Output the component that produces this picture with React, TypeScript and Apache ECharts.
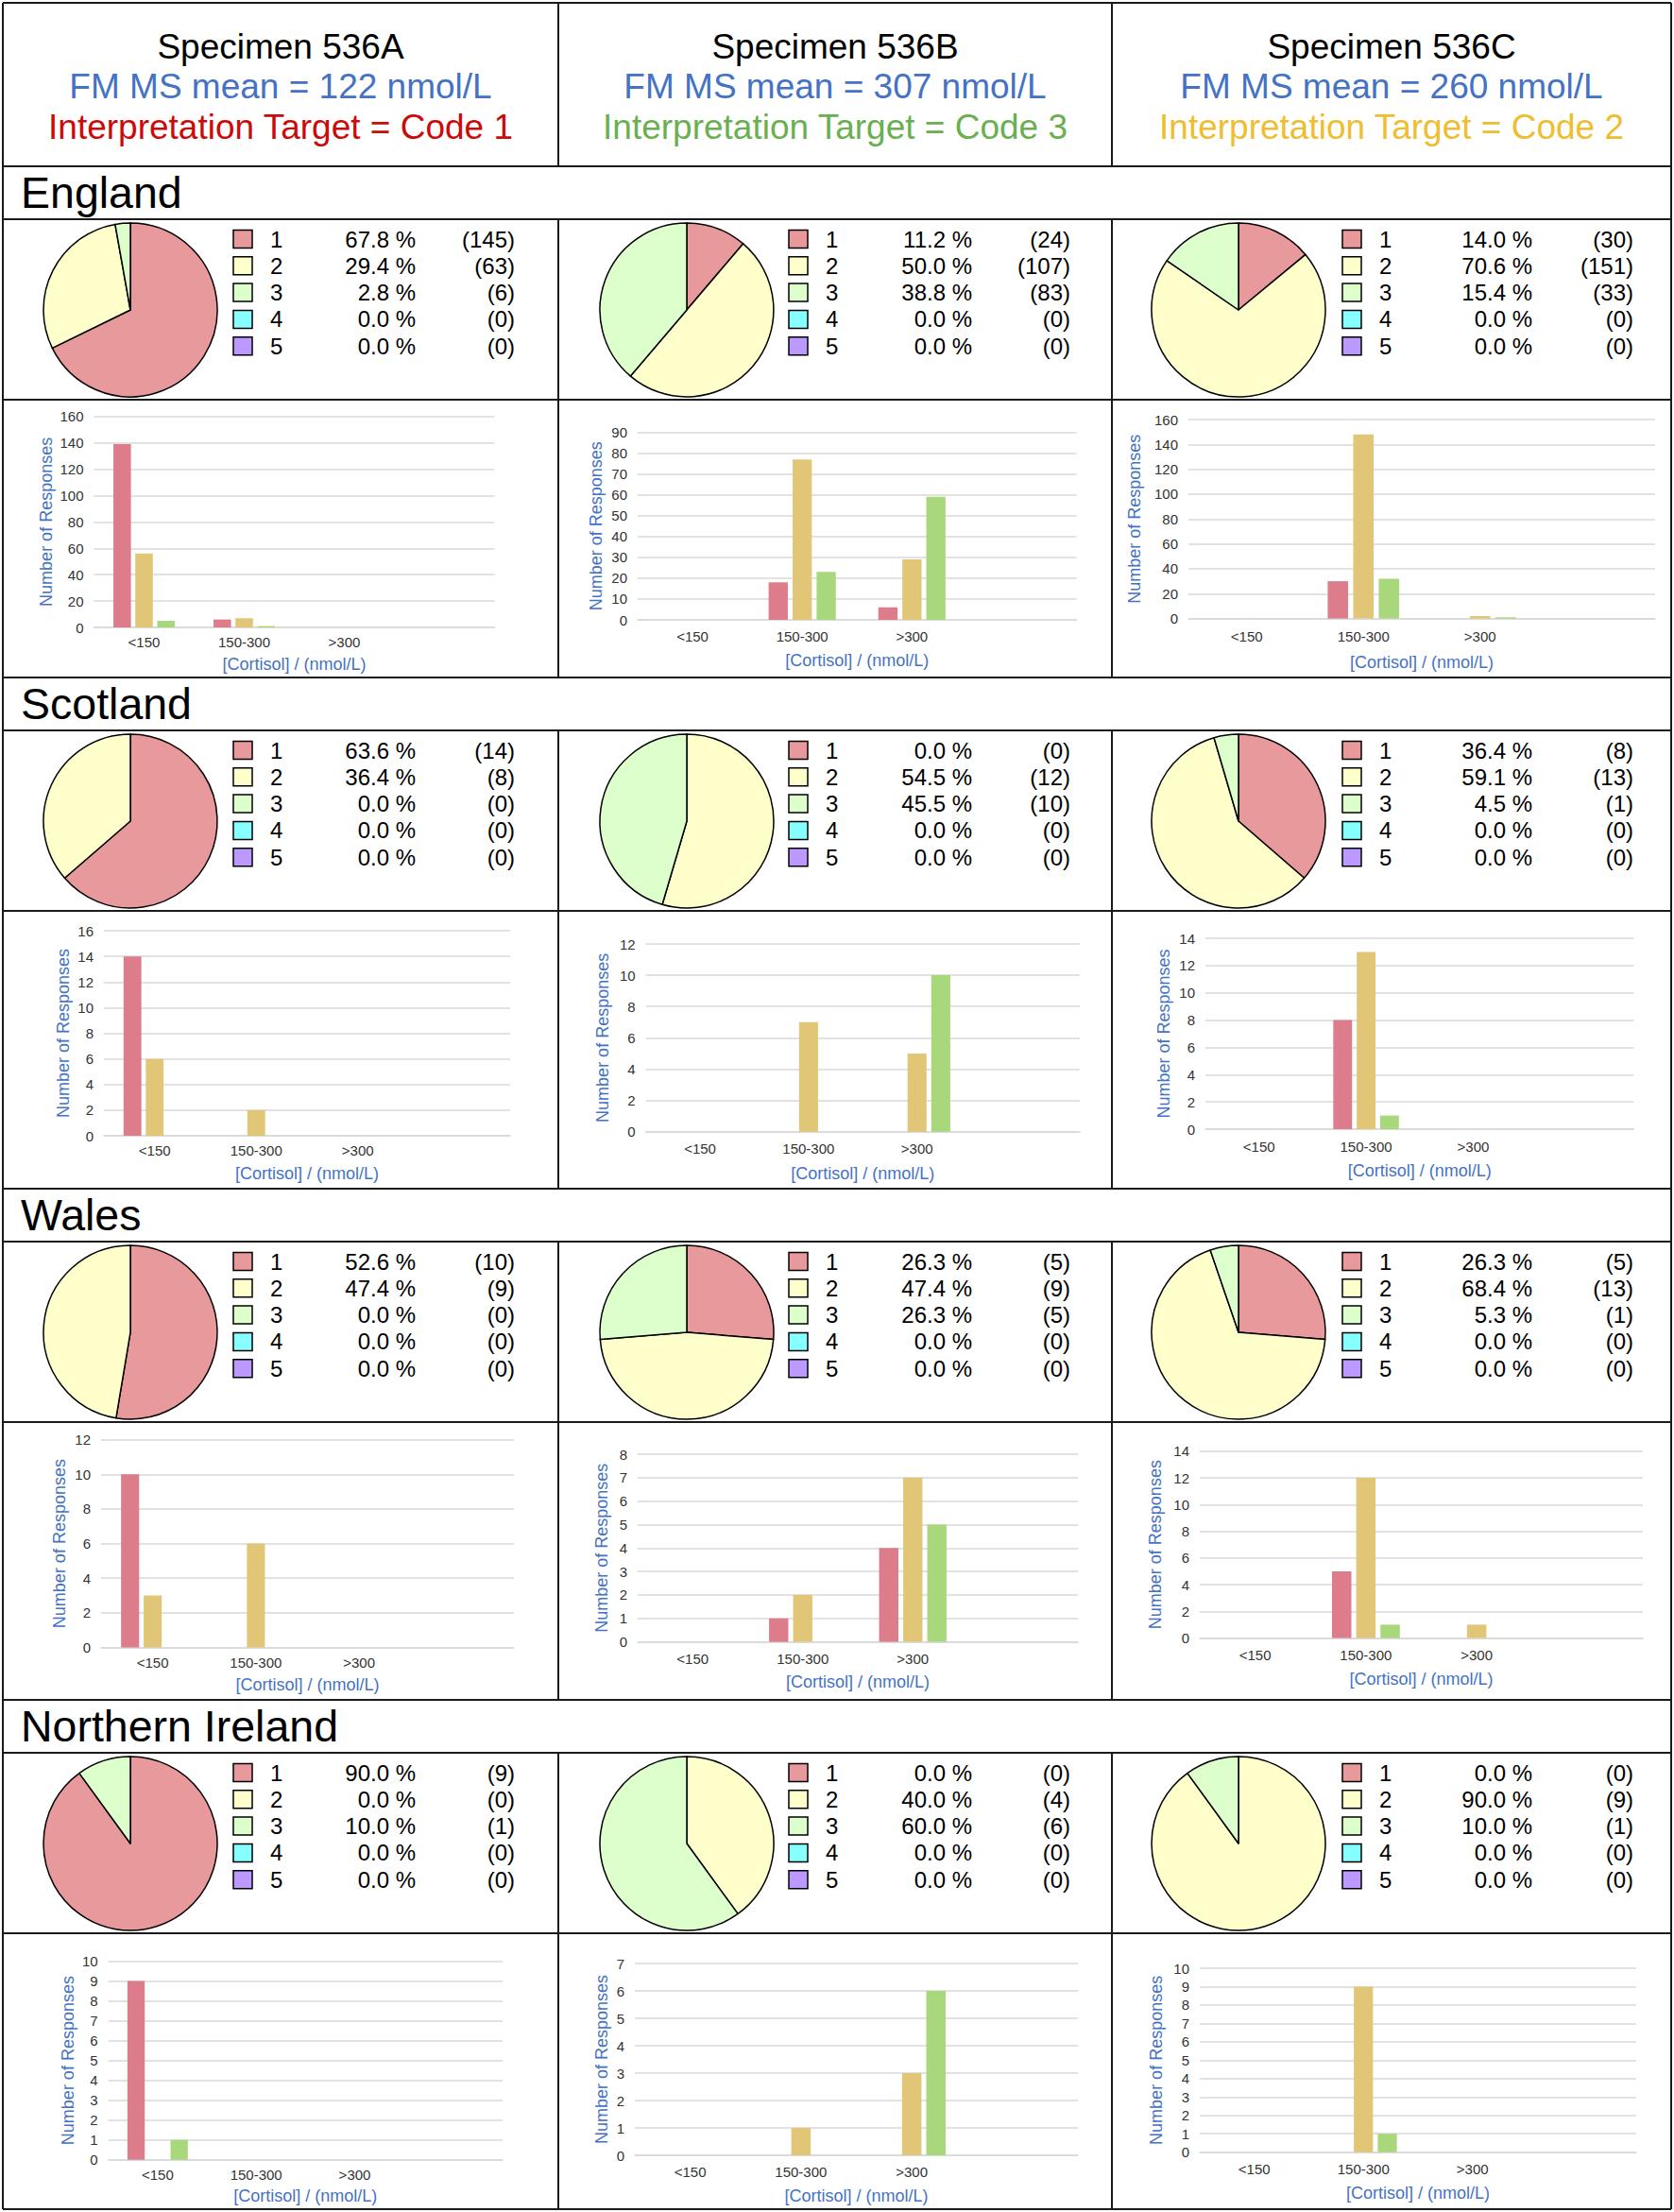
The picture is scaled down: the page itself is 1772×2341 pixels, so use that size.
import React, { useEffect, useRef } from 'react';
import * as echarts from 'echarts';

// ---------------- data ----------------
const specimens = ['Specimen 536A', 'Specimen 536B', 'Specimen 536C'];
const fmMsMeans = [122, 307, 260];
const targetCodes = [1, 3, 2];
const regions = ['England', 'Scotland', 'Wales', 'Northern Ireland'];
const codes = ['1', '2', '3', '4', '5'];
const cortisolBins = ['<150', '150-300', '>300', ''];

// response counts for codes 1..5, per specimen [A, B, C]
const englandCounts = [[145, 63, 6, 0, 0], [24, 107, 83, 0, 0], [30, 151, 33, 0, 0]];
const scotlandCounts = [[14, 8, 0, 0, 0], [0, 12, 10, 0, 0], [8, 13, 1, 0, 0]];
const walesCounts = [[10, 9, 0, 0, 0], [5, 9, 5, 0, 0], [5, 13, 1, 0, 0]];
const niCounts = [[9, 0, 1, 0, 0], [0, 4, 6, 0, 0], [0, 9, 1, 0, 0]];

// percentages for codes 1..5, per specimen [A, B, C]
const englandPct = [[67.8, 29.4, 2.8, 0, 0], [11.2, 50.0, 38.8, 0, 0], [14.0, 70.6, 15.4, 0, 0]];
const scotlandPct = [[63.6, 36.4, 0, 0, 0], [0, 54.5, 45.5, 0, 0], [36.4, 59.1, 4.5, 0, 0]];
const walesPct = [[52.6, 47.4, 0, 0, 0], [26.3, 47.4, 26.3, 0, 0], [26.3, 68.4, 5.3, 0, 0]];
const niPct = [[90.0, 0, 10.0, 0, 0], [0, 40.0, 60.0, 0, 0], [0, 90.0, 10.0, 0, 0]];

// bar counts: per specimen, per code (1,2,3), per cortisol bin (<150, 150-300, >300)
const englandBars = [
  [[139, 6, 0], [56, 7, 0], [5, 1, 0]],
  [[0, 18, 6], [0, 77, 29], [0, 23, 59]],
  [[0, 30, 0], [0, 148, 2], [0, 32, 1]],
];
const scotlandBars = [
  [[14, 0, 0], [6, 2, 0], [0, 0, 0]],
  [[0, 0, 0], [0, 7, 5], [0, 0, 10]],
  [[0, 8, 0], [0, 13, 0], [0, 1, 0]],
];
const walesBars = [
  [[10, 0, 0], [3, 6, 0], [0, 0, 0]],
  [[0, 1, 4], [0, 2, 7], [0, 0, 5]],
  [[0, 5, 0], [0, 12, 1], [0, 1, 0]],
];
const niBars = [
  [[9, 0, 0], [0, 0, 0], [1, 0, 0]],
  [[0, 0, 0], [0, 1, 3], [0, 0, 6]],
  [[0, 0, 0], [0, 9, 0], [0, 1, 0]],
];

// y-axis tick ranges
const englandYMax = [160, 90, 160];
const englandYStep = [20, 10, 20];
const scotlandYMax = [16, 12, 14];
const scotlandYStep = [2, 2, 2];
const walesYMax = [12, 8, 14];
const walesYStep = [2, 1, 2];
const niYMax = [10, 7, 10];
const niYStep = [1, 1, 1];

const allCounts = [englandCounts, scotlandCounts, walesCounts, niCounts];
const allPct = [englandPct, scotlandPct, walesPct, niPct];
const allBars = [englandBars, scotlandBars, walesBars, niBars];
const allYMax = [englandYMax, scotlandYMax, walesYMax, niYMax];
const allYStep = [englandYStep, scotlandYStep, walesYStep, niYStep];

// ---------------- layout & style ----------------
const W = 1772;
const H = 2341;
const FONT = '"Liberation Sans", Arial, Helvetica, sans-serif';
const pieColors = ['#E8999B', '#FFFFCC', '#DDFFCC', '#88FFFF', '#BB99FF'];
const barColors = ['#DD7C8A', '#E2C677', '#A8D77C'];
const targetColors: Record<number, string> = { 1: '#CC0A0A', 2: '#EDBE30', 3: '#6AAF50' };
const BLUE = '#4472C4';
const LINE = '#1a1a1a';

const colLeft = [3, 591, 1177];
const colRight = [591, 1177, 1769];
const blockTops = [176, 717, 1258, 1799];
const BOTTOM = 2338;
const LABEL_H = 56;
const PIE_H = 191;
const pieCx = [135, 136, 134];
const pctRight = [437, 438, 445];
const cntRight = [542, 542, 552];

// [left, right, top(max line), bottom(zero line), yNameGap, xNameGap, xLabelMargin]
const barLayouts = [
  [[99.5, 523.5, 440.7, 664, 41.5, 30, 8], [675, 1139.5, 457.5, 656, 35.4, 34, 10], [1258, 1752, 444, 654.6, 48.3, 37.4, 11.4]],
  [[110, 540, 985, 1202, 34, 30.5, 8], [683.6, 1143, 999, 1197.7, 36.2, 34.8, 10], [1276, 1729.5, 993, 1195, 35.2, 35, 11]],
  [[107, 544, 1523.7, 1743.5, 35, 30, 8.5], [675, 1141, 1539, 1737.6, 29, 33, 10.4], [1270, 1739, 1535.8, 1733.5, 38, 34.5, 10]],
  [[114.7, 532, 2075.5, 2285.7, 33.4, 29.7, 8.3], [672, 1141, 2078, 2281, 26.3, 34, 10], [1270, 1732, 2083, 2277.7, 37.2, 34.3, 10]],
];

function buildOption() {
  const grids: any[] = [];
  const xAxes: any[] = [];
  const yAxes: any[] = [];
  const series: any[] = [];
  const graphics: any[] = [];

  const line = (x1: number, y1: number, x2: number, y2: number) =>
    graphics.push({ type: 'line', z: 100, silent: true, shape: { x1, y1, x2, y2 }, style: { stroke: LINE, lineWidth: 2 } });
  const text = (x: number, y: number, t: string, size: number, fill: string, align: string) =>
    graphics.push({
      type: 'text', x, y, z: 50, silent: true,
      style: { text: t, fill, fontSize: size, fontFamily: FONT, align, verticalAlign: 'middle' },
    });

  // outer border and header
  line(3, 3, 1769, 3);
  line(3, BOTTOM, 1769, BOTTOM);
  line(3, 3, 3, BOTTOM);
  line(1769, 3, 1769, BOTTOM);
  line(591, 3, 591, 176);
  line(1177, 3, 1177, 176);

  for (let c = 0; c < 3; c++) {
    const cx = (colLeft[c] + colRight[c]) / 2;
    text(cx, 49, specimens[c], 37, '#000', 'center');
    text(cx, 91, `FM MS mean = ${fmMsMeans[c]} nmol/L`, 37, BLUE, 'center');
    text(cx, 134, `Interpretation Target = Code ${targetCodes[c]}`, 37, targetColors[targetCodes[c]], 'center');
  }

  let k = 0;
  for (let r = 0; r < 4; r++) {
    const top = blockTops[r];
    const blockBottom = r < 3 ? blockTops[r + 1] : BOTTOM;
    const pieTop = top + LABEL_H;
    const barTop = pieTop + PIE_H;
    line(3, top, 1769, top);
    line(3, pieTop, 1769, pieTop);
    line(3, barTop, 1769, barTop);
    line(591, pieTop, 591, blockBottom);
    line(1177, pieTop, 1177, blockBottom);
    text(22, top + 28, regions[r], 46.5, '#000', 'left');

    for (let c = 0; c < 3; c++) {
      const counts = allCounts[r][c];
      const pcts = allPct[r][c];
      // pie
      series.push({
        type: 'pie',
        silent: true,
        center: [colLeft[c] + pieCx[c], pieTop + 96],
        radius: 92,
        startAngle: 90,
        clockwise: true,
        label: { show: false },
        labelLine: { show: false },
        itemStyle: { borderColor: '#000', borderWidth: 1.5 },
        data: counts
          .map((v, i) => ({ name: codes[i], value: v, itemStyle: { color: pieColors[i] } }))
          .filter((d) => d.value > 0),
      });
      // legend table
      for (let i = 0; i < 5; i++) {
        const ry = pieTop + 21 + 28.3 * i;
        graphics.push({
          type: 'rect', z: 50, silent: true,
          shape: { x: colLeft[c] + 244, y: ry - 9.5, width: 20, height: 19 },
          style: { fill: pieColors[i], stroke: '#000', lineWidth: 1.5 },
        });
        text(colLeft[c] + 283, ry, codes[i], 24, '#000', 'left');
        text(colLeft[c] + pctRight[c], ry, `${pcts[i].toFixed(1)} %`, 24, '#000', 'right');
        text(colLeft[c] + cntRight[c], ry, `(${counts[i]})`, 24, '#000', 'right');
      }

      // bar chart
      const [l, rr, t, b, yGap, xGap, xMargin] = barLayouts[r][c];
      grids.push({ left: l, top: t, width: rr - l, height: b - t, containLabel: false });
      xAxes.push({
        type: 'category',
        gridIndex: k,
        data: cortisolBins,
        axisTick: { show: false },
        axisLine: { show: true, lineStyle: { color: '#D9D9D9', width: 1.5 } },
        axisLabel: { interval: 0, margin: xMargin, fontSize: 15, color: '#333', fontFamily: FONT },
        name: '[Cortisol] / (nmol/L)',
        nameLocation: 'middle',
        nameGap: xGap,
        nameTextStyle: { fontSize: 18, color: BLUE, fontFamily: FONT },
      });
      yAxes.push({
        type: 'value',
        gridIndex: k,
        min: 0,
        max: allYMax[r][c],
        interval: allYStep[r][c],
        axisLine: { show: false },
        axisTick: { show: false },
        axisLabel: { margin: 11, fontSize: 15, color: '#333', fontFamily: FONT },
        splitLine: { show: true, lineStyle: { color: '#D9D9D9', width: 1.5 } },
        name: 'Number of Responses',
        nameLocation: 'middle',
        nameGap: yGap,
        nameTextStyle: { fontSize: 18, color: BLUE, fontFamily: FONT },
      });
      const bars = allBars[r][c];
      for (let s = 0; s < 3; s++) {
        series.push({
          type: 'bar',
          silent: true,
          name: codes[s],
          xAxisIndex: k,
          yAxisIndex: k,
          data: [...bars[s], null],
          barWidth: '17.5%',
          barGap: '25%',
          itemStyle: { color: barColors[s] },
        });
      }
      k++;
    }
  }

  return {
    animation: false,
    backgroundColor: '#fff',
    textStyle: { fontFamily: FONT },
    grid: grids,
    xAxis: xAxes,
    yAxis: yAxes,
    series,
    graphic: { elements: graphics },
  };
}

export default function App() {
  const ref = useRef<HTMLDivElement>(null);
  useEffect(() => {
    document.body.style.margin = '0';
    if (!ref.current) return;
    const chart = echarts.init(ref.current, null, { renderer: 'svg', width: W, height: H });
    chart.setOption(buildOption() as any);
    return () => chart.dispose();
  }, []);
  return <div ref={ref} style={{ width: W, height: H, position: 'absolute', left: 0, top: 0, background: '#fff' }} />;
}
